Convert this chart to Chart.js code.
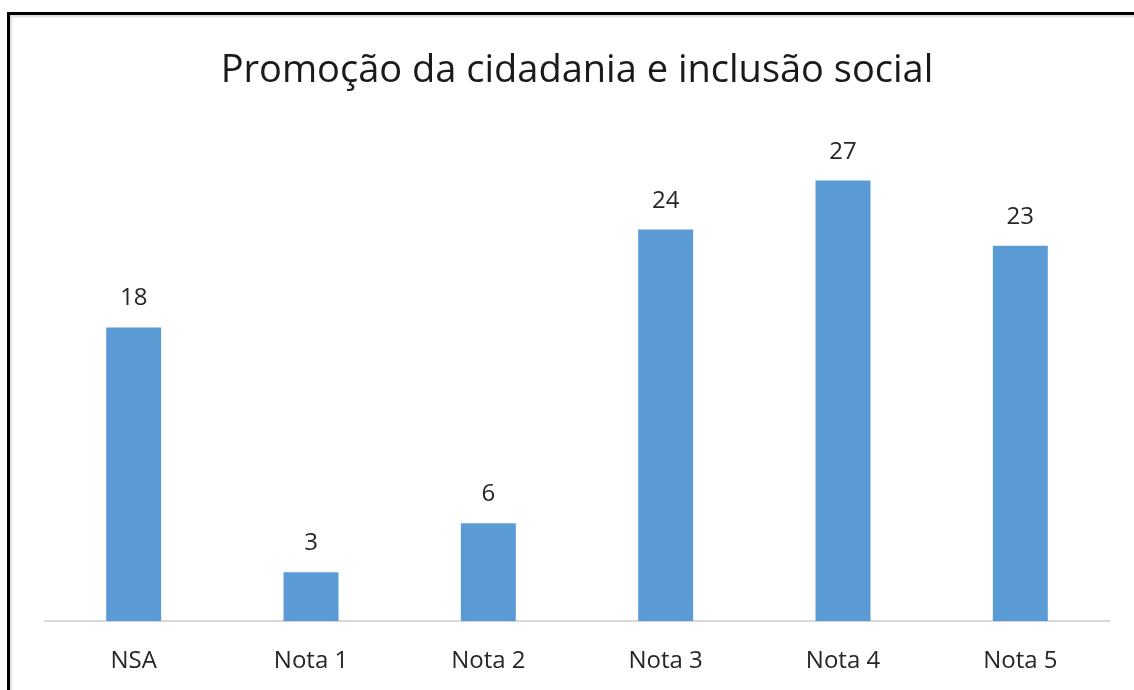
<!DOCTYPE html>
<html lang="pt">
<head>
    <meta charset="UTF-8">
    <script src="https://cdn.jsdelivr.net/npm/chart.js@4.4.0/dist/chart.umd.min.js"></script>
    <title>Promoção da cidadania e inclusão social</title>
    <style>
        body { margin: 0; background: #fff; overflow: hidden; }
        #moldura {
            position: absolute; left: 7px; top: 12px; width: 1200px; height: 720px;
            border-top: 3px solid #000; border-left: 3px solid #000;
            box-shadow: inset 2px 2px 2px #ddd;
        }
        #caixa { position: absolute; left: 0; top: 0; width: 1134px; height: 694px; }
    </style>
</head>
<body>
    <div id="moldura"></div>
    <div id="caixa">
        <canvas id="myChart"></canvas>
    </div>

    <script>
        var categorias = ['NSA', 'Nota 1', 'Nota 2', 'Nota 3', 'Nota 4', 'Nota 5'];
        var respostas = [18, 3, 6, 24, 27, 23];

        var fonte = "'Open Sans', 'Noto Sans', sans-serif";

        // escreve o valor em cima de cada barra
        var rotulos = {
            id: 'rotulos',
            afterDatasetsDraw: function (chart) {
                var ctx = chart.ctx;
                var meta = chart.getDatasetMeta(0);
                ctx.save();
                ctx.font = '24px ' + fonte;
                ctx.fillStyle = '#262626';
                ctx.textAlign = 'center';
                ctx.textBaseline = 'alphabetic';
                meta.data.forEach(function (barra, i) {
                    ctx.fillText(respostas[i], barra.x, barra.y - 22);
                });
                ctx.restore();
            }
        };

        var ctx = document.getElementById('myChart').getContext('2d');
        var chart = new Chart(ctx, {
            type: 'bar',
            data: {
                labels: categorias,
                datasets: [{
                    data: respostas,
                    backgroundColor: '#5B9BD5',
                    barPercentage: 0.31,
                    categoryPercentage: 1
                }]
            },
            options: {
                responsive: true,
                maintainAspectRatio: false,
                animation: false,
                layout: { padding: { left: 45, right: 25, top: 26, bottom: 0 } },
                plugins: {
                    legend: { display: false },
                    tooltip: { enabled: false },
                    title: {
                        display: true,
                        text: 'Promoção da cidadania e inclusão social',
                        color: '#1a1a1a',
                        font: { family: fonte, size: 38, weight: 'normal' },
                        padding: { top: 22, bottom: 38 }
                    }
                },
                scales: {
                    x: {
                        grid: { display: false },
                        border: { color: '#d9d9d9', width: 2 },
                        ticks: { color: '#262626', font: { family: fonte, size: 24 }, padding: 18 }
                    },
                    y: {
                        display: false,
                        min: 0,
                        max: 30
                    }
                }
            },
            plugins: [rotulos]
        });
    </script>
</body>
</html>
